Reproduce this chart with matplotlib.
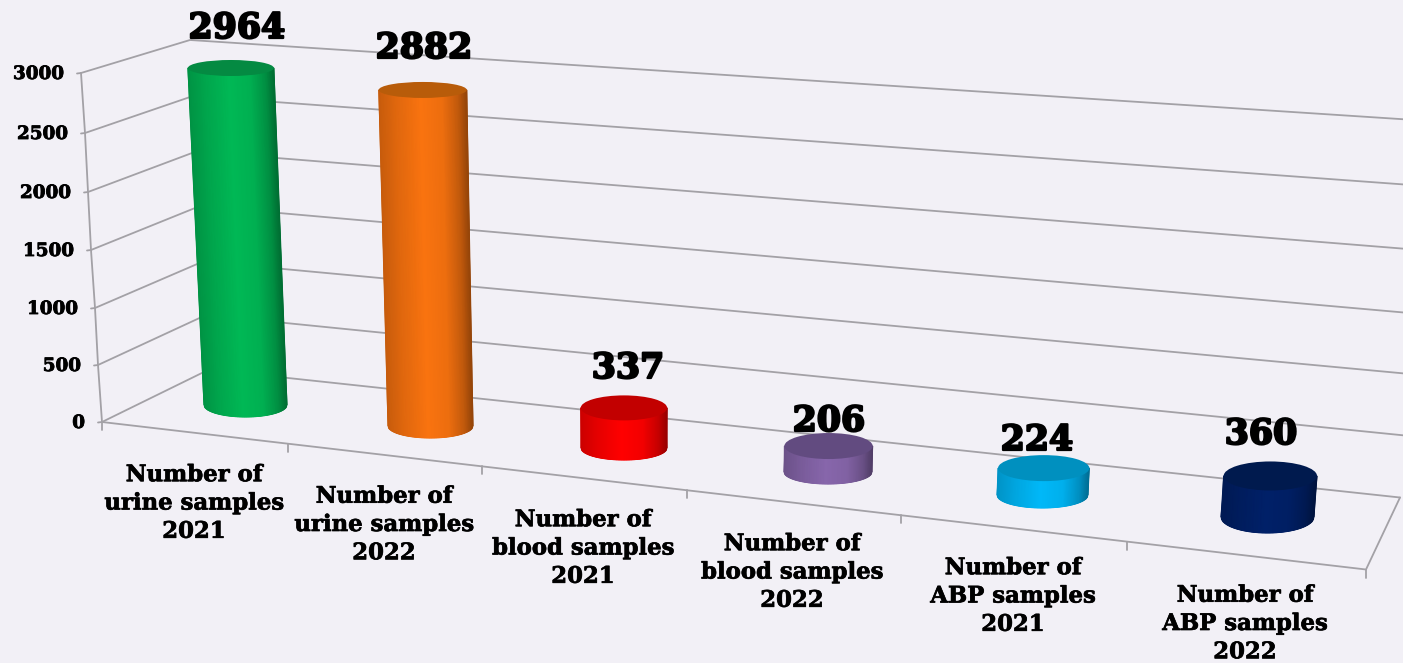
#!/usr/bin/env python3
"""Sample counts as 3D cylinders, drawn on a flat axes in pixel coordinates."""
import numpy as np
import matplotlib
matplotlib.use("Agg")
from matplotlib import pyplot as plt
from matplotlib import patheffects as pe
from matplotlib.colors import LinearSegmentedColormap
from matplotlib.patches import Ellipse

categories = ["Number of\nurine samples\n2021", "Number of\nurine samples\n2022",
              "Number of\nblood samples\n2021", "Number of\nblood samples\n2022",
              "Number of\nABP samples\n2021", "Number of\nABP samples\n2022"]
values = [2964, 2882, 337, 206, 224, 360]
y_ticks = [0, 500, 1000, 1500, 2000, 2500, 3000]
side_colors = ["#00b855", "#f9730f", "#ff0000", "#8766ab", "#00b8f8", "#002068"]
top_colors = ["#048a42", "#b85c0a", "#c20000", "#624b80", "#0090bf", "#001a4e"]

BG = "#f2f0f6"
GRID = "#a3a1a6"
SERIF = "DejaVu Serif"

# chart frame, pixels, one entry per y tick
FRONT_X, FRONT_Y = [102, 98, 95, 91, 88, 85, 81], [422, 365, 308, 250, 192, 133, 73]
BACK_X = [209, 206, 203, 200, 196, 193, 190]
BACK_Y = [369.5, 315, 261.5, 206, 151.5, 96, 40]
RIGHT_X = [1400, 1405, 1410, 1415, 1420, 1425, 1430]
RIGHT_Y = [497.5, 435.5, 374, 313.5, 250, 186, 121]
FLOOR_END = (1366, 569.5)
CAT_EDGES = [102, 288, 482, 687, 901, 1127, 1366]
VANISH_X = 640

# cylinder layout, pixels
BASE_X = [245.5, 430.5, 624, 828, 1042.5, 1267.5]
BASE_Y = [405, 426, 448, 472, 495, 517]
HALF_W = [41.5, 42.5, 43, 44, 45.5, 46.5]
TOP_B = [8, 8, 12.5, 13, 13, 14.5]
BOT_B = [12, 12, 12, 12, 13, 16]
PX_PER_UNIT = [.1137, .1166, .119, .126, .12, .114]
VALUE_POS = [(237, 28), (424, 48), (628, 368), (829, 421), (1037, 440), (1261, 434)]
CAT_POS = [(194, 503.5), (384, 525), (583, 548.5), (792, 572.5), (1013, 596.5), (1245, 624)]


def shade(t):
    # brightness across the cylinder, t from -1 (left) to 1 (right)
    return np.interp(t, [-1, -.6, -.05, .45, .8, 1], [.8, .9, 1, .95, .78, .6])


def cylinder(ax, i, color, top_color):
    h = values[i] * PX_PER_UNIT[i]
    x0, y0 = BASE_X[i], BASE_Y[i]
    x1 = x0 + (x0 - VANISH_X) * 1.1e-4 * h
    y1 = y0 - h
    w0 = HALF_W[i]
    w1 = w0 + 1.5 * h / 337
    ts = np.linspace(-1, 1, 121)
    bulge = np.sqrt(1 - ts * ts)
    xx = np.vstack([x1 + ts * w1, x0 + ts * w0])
    yy = np.vstack([y1 + 0 * ts, y0 + BOT_B[i] * bulge])
    cc = np.vstack([shade(ts), shade(ts)])
    cmap = LinearSegmentedColormap.from_list("side", ["black", color])
    ax.pcolormesh(xx, yy, cc, shading="gouraud", cmap=cmap, vmin=0, vmax=1, zorder=4)
    ax.add_patch(Ellipse((x1, y1), 2 * w1, 2 * TOP_B[i], fc=top_color, ec="none", zorder=5))


def main():
    plt.rcParams["font.family"] = [SERIF, "DejaVu Sans"]
    fig = plt.figure(figsize=(14.03, 6.63), dpi=100, facecolor=BG)
    ax = fig.add_axes([0, 0, 1, 1])
    ax.set_xlim(0, 1403)
    ax.set_ylim(663, 0)
    ax.axis("off")

    line = dict(color=GRID, lw=1.3, zorder=2, solid_capstyle="round")
    for k, v in enumerate(y_ticks):
        fx, fy = FRONT_X[k], FRONT_Y[k]
        ax.plot([fx, BACK_X[k], RIGHT_X[k]], [fy, BACK_Y[k], RIGHT_Y[k]], **line)
        ax.plot([fx - 4, fx], [fy + .5, fy], **line)
        ax.text(fx - 17, fy + 1, str(v), ha="right", va="center", fontsize=13.2,
                fontweight="bold", color="black", zorder=7,
                path_effects=[pe.Stroke(linewidth=.6, foreground="black"), pe.Normal()])

    # front wall edge, floor edges and category ticks
    ax.plot(FRONT_X, FRONT_Y, **line)
    ax.plot([FRONT_X[0], FLOOR_END[0], RIGHT_X[0]], [FRONT_Y[0], FLOOR_END[1], RIGHT_Y[0]], **line)
    for x in CAT_EDGES:
        y = np.interp(x, [FRONT_X[0], FLOOR_END[0]], [FRONT_Y[0], FLOOR_END[1]])
        ax.plot([x, x], [y, y + 8], **line)

    for i in range(len(values)):
        cylinder(ax, i, side_colors[i], top_colors[i])
        ax.text(*VALUE_POS[i], str(values[i]), ha="center", va="center", fontsize=25,
                fontweight="bold", color="black", zorder=8,
                path_effects=[pe.Stroke(linewidth=1.6, foreground="black"), pe.Normal()])
        ax.text(*CAT_POS[i], categories[i], ha="center", va="center", fontsize=16.4,
                fontweight="bold", color="black", linespacing=1.37, zorder=7,
                path_effects=[pe.Stroke(linewidth=.5, foreground="black"), pe.Normal()])

    fig.savefig("out.png", dpi=100, facecolor=BG)


if __name__ == "__main__":
    main()
